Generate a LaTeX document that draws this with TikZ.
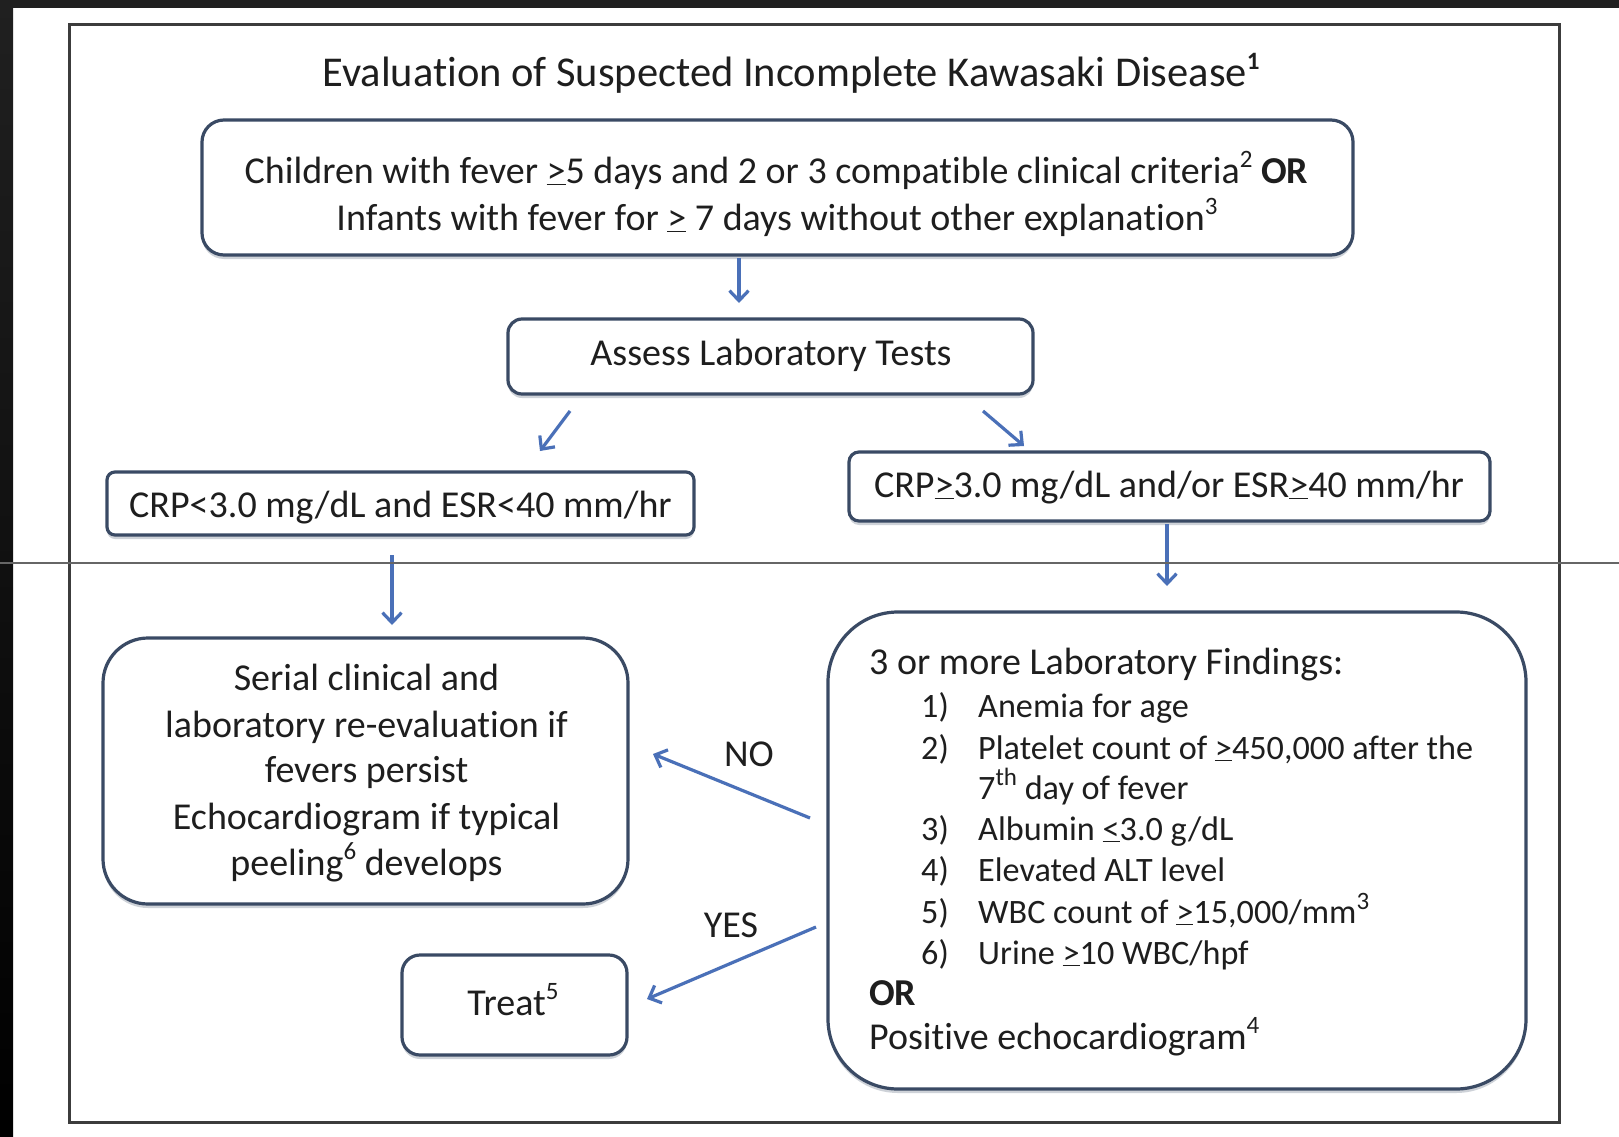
\documentclass[tikz,border=0pt]{standalone}
\usepackage{fontspec}
\setmainfont{Carlito}[Ligatures=NoCommon]
\usetikzlibrary{arrows.meta,shadows,calc}
\definecolor{boxline}{RGB}{58,74,100}
\definecolor{arrowblue}{RGB}{74,112,184}
\definecolor{txtc}{RGB}{30,30,30}
\definecolor{framegray}{RGB}{60,60,60}
\definecolor{darkbg}{RGB}{32,32,32}
\newcommand{\sps}[1]{\raisebox{0.4em}{\fontsize{25}{25}\selectfont #1}}
\begin{document}
\begin{tikzpicture}[x=1pt,y=-1pt,
  box/.style={draw=boxline, line width=3.2pt, fill=white, inner sep=0pt,
    drop shadow={shadow xshift=0pt, shadow yshift=-4pt, fill=boxline!45!white, opacity=0.55}},
  lbl/.style={inner sep=0pt, text=txtc, font=\fontsize{38}{46}\selectfont, text height=30pt, text depth=8pt},
  item/.style={inner sep=0pt, text=txtc, font=\fontsize{34.2}{42}\selectfont, text height=27pt, text depth=7pt, anchor=west},
  ttl/.style={inner sep=0pt, text=txtc, font=\fontsize{42.5}{50}\selectfont, text height=33pt, text depth=9pt},
  arr/.style={draw=arrowblue, line width=3.2pt, -{Straight Barb[length=10pt,width=19pt,line width=3.2pt]}},
]
\useasboundingbox (0,0) rectangle (1619,1137);
\fill[white] (0,0) rectangle (1619,1137);
\fill[darkbg] (0,0) rectangle (1619,8);
\shade[top color=darkbg, bottom color=black] (0,0) rectangle (13,1137);
\draw[framegray, line width=3pt] (69,25) rectangle (1559,1122);

% title
\node[ttl] (title) at (791,75) {Evaluation of Suspected Incomplete Kawasaki Disease\sps{\textbf{1}}};

% boxes
\node[box, minimum width=1151pt, minimum height=135pt, rounded corners=22pt] (b1) at (777.5,187.5) {};
\node[box, minimum width=525pt, minimum height=75pt, rounded corners=14pt] (b2) at (770.5,356.5) {};
\node[box, minimum width=587pt, minimum height=63pt, rounded corners=8pt] (b3) at (400.5,503.5) {};
\node[box, minimum width=641pt, minimum height=69pt, rounded corners=10pt] (b4) at (1169.5,486.5) {};
\node[box, minimum width=525pt, minimum height=266pt, rounded corners=45pt] (b5) at (365.5,771) {};
\node[box, minimum width=698pt, minimum height=477pt, rounded corners=70pt] (b6) at (1177,850.5) {};
\node[box, minimum width=225pt, minimum height=100pt, rounded corners=18pt] (b7) at (514.5,1005) {};

% box texts
\node[lbl] (t1a) at (776.5,172) {Children with fever \underline{>}5 days and 2 or 3 compatible clinical criteria\sps{2} \textbf{OR}};
\node[lbl] (t1b) at (777,219) {Infants with fever for \underline{>} 7 days without other explanation\sps{3}};
\node[lbl] (t2) at (771,354) {Assess Laboratory Tests};
\node[lbl] (t3) at (400.5,506) {CRP<3.0 mg/dL and ESR<40 mm/hr};
\node[lbl] (t4) at (1169,486) {CRP\underline{>}3.0 mg/dL and/or ESR\underline{>}40 mm/hr};
\node[lbl] (s1) at (366.5,679) {Serial clinical and};
\node[lbl] (s2) at (366.5,726) {laboratory re-evaluation if};
\node[lbl] (s3) at (366.5,771) {fevers persist};
\node[lbl] (s4) at (366.5,818) {Echocardiogram if typical};
\node[lbl] (s5) at (366.5,864) {peeling\sps{6} develops};
\node[lbl] (tr) at (513,1004) {Treat\sps{5}};

% lab findings
\node[lbl, anchor=west] (l0) at (869,663) {3 or more Laboratory Findings:};
\node[item] (n1) at (921,707) {1)};
\node[item] (i1) at (978,707) {Anemia for age};
\node[item] (n2) at (921,749) {2)};
\node[item] (i2) at (978,749) {Platelet count of \underline{>}450,000 after the};
\node[item] (i2b) at (978,789) {7\sps{th} day of fever};
\node[item] (n3) at (921,830) {3)};
\node[item] (i3) at (978,830) {Albumin \underline{<}3.0 g/dL};
\node[item] (n4) at (921,871) {4)};
\node[item] (i4) at (978,871) {Elevated ALT level};
\node[item] (n5) at (921,913) {5)};
\node[item] (i5) at (978,913) {WBC count of \underline{>}15,000/mm\sps{3}};
\node[item] (n6) at (921,954) {6)};
\node[item] (i6) at (978,954) {Urine \underline{>}10 WBC/hpf};
\node[lbl, anchor=west] (or) at (869,994) {\textbf{OR}};
\node[lbl, anchor=west] (pe) at (869,1038) {Positive echocardiogram\sps{4}};

% branch labels
\node[lbl] (no) at (749,755) {NO};
\node[lbl] (yes) at (731,926) {YES};

% connector ends
\coordinate (a1s) at (739,258);  \coordinate (a1e) at (739,303);
\coordinate (a2s) at (570,411);  \coordinate (a2e) at (540,451);
\coordinate (a3s) at (983,411);  \coordinate (a3e) at (1024,446);
\coordinate (a4s) at (392,555);  \coordinate (a4e) at (392,625);
\coordinate (a5s) at (1167,524); \coordinate (a5e) at (1167,586);
\coordinate (a6s) at (810,818);  \coordinate (a6e) at (653,754);
\coordinate (a7s) at (816,927);  \coordinate (a7e) at (647,999);

\draw[arr] (a1s) -- (a1e);
\draw[arr] (a2s) -- (a2e);
\draw[arr] (a3s) -- (a3e);
\draw[arr] (a4s) -- (a4e);
\draw[arr] (a5s) -- (a5e);
\draw[arr] (a6s) -- (a6e);
\draw[arr] (a7s) -- (a7e);

\draw[line width=1.5pt, black!60] (0,563) -- (1619,563);
\end{tikzpicture}
\end{document}
